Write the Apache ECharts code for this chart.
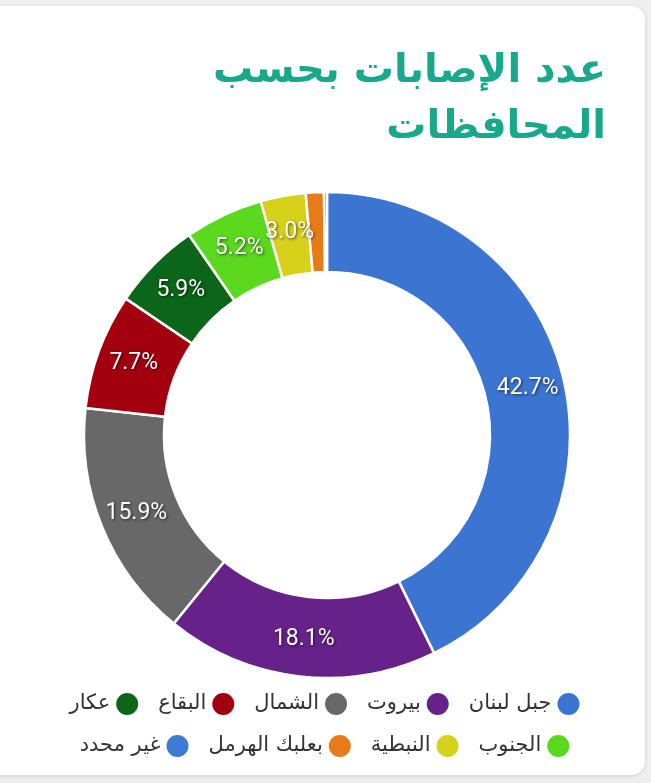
<!DOCTYPE html>
<html>
<head>
<meta charset="utf-8">
<script src="https://cdn.jsdelivr.net/npm/echarts@6/dist/echarts.min.js"></script>
<style>
  html, body { margin: 0; padding: 0; background: #efefef; overflow: hidden; }
  #card {
    position: absolute; left: -14px; top: 6px; width: 659px; height: 769px;
    background: #fff; border-radius: 14px;
    box-shadow: 0 1px 4px rgba(0,0,0,0.12);
  }
  #chart { position: absolute; left: 0; top: 0; width: 651px; height: 783px; }
</style>
</head>
<body>
<div id="card"></div>
<div id="chart"></div>
<script>
// المحافظات ونسبة الإصابات
const regions = ['جبل لبنان', 'بيروت', 'الشمال', 'البقاع', 'عكار', 'الجنوب', 'النبطية', 'بعلبك الهرمل', 'غير محدد'];
const shares = [42.7, 18.1, 15.9, 7.7, 5.9, 5.2, 3.0, 1.2, 0.2];
const colors = ['#3c74d2', '#67228a', '#686868', '#a3000f', '#0b6619', '#5bd91f', '#d8d11b', '#e77b18', '#3e7ad6'];
const legendRow1 = ['عكار', 'البقاع', 'الشمال', 'بيروت', 'جبل لبنان'];
const legendRow2 = ['غير محدد', 'بعلبك الهرمل', 'النبطية', 'الجنوب'];

const arabicFont = '"DejaVu Sans", "Noto Sans", sans-serif';

const chart = echarts.init(document.getElementById('chart'));

const legendBase = {
  orient: 'horizontal',
  left: 'center',
  align: 'right',
  icon: 'circle',
  itemWidth: 24,
  itemHeight: 24,
  itemGap: 18,
  selectedMode: false,
  textStyle: { fontFamily: arabicFont, fontSize: 21, color: '#333' }
};

const option = {
  backgroundColor: 'transparent',
  color: colors,
  graphic: [
    {
      type: 'text',
      x: 606,
      y: 44,
      style: {
        text: 'عدد الإصابات بحسب\nالمحافظات',
        textAlign: 'right',
        fontFamily: arabicFont,
        fontSize: 40,
        fontWeight: 'bold',
        fill: '#18a98c',
        lineHeight: 56
      }
    }
  ],
  legend: [
    Object.assign({}, legendBase, { top: 686, data: legendRow1 }),
    Object.assign({}, legendBase, { top: 728, data: legendRow2 })
  ],
  series: [
    {
      type: 'pie',
      center: [327, 435],
      radius: [163, 243],
      startAngle: 90,
      clockwise: true,
      avoidLabelOverlap: false,
      itemStyle: { borderColor: '#fff', borderWidth: 2.5 },
      label: {
        show: true,
        position: 'inside',
        color: '#fff',
        fontFamily: 'Roboto, sans-serif',
        fontSize: 23,
        textShadowColor: 'rgba(0,0,0,0.65)',
        textShadowBlur: 3,
        textShadowOffsetX: 1,
        textShadowOffsetY: 1,
        formatter: (p) => (p.value < 2 ? '' : p.value.toFixed(1) + '%')
      },
      labelLine: { show: false },
      emphasis: { disabled: true },
      data: regions.map((name, i) => ({ name: name, value: shares[i] }))
    }
  ]
};

chart.setOption(option);
</script>
</body>
</html>
